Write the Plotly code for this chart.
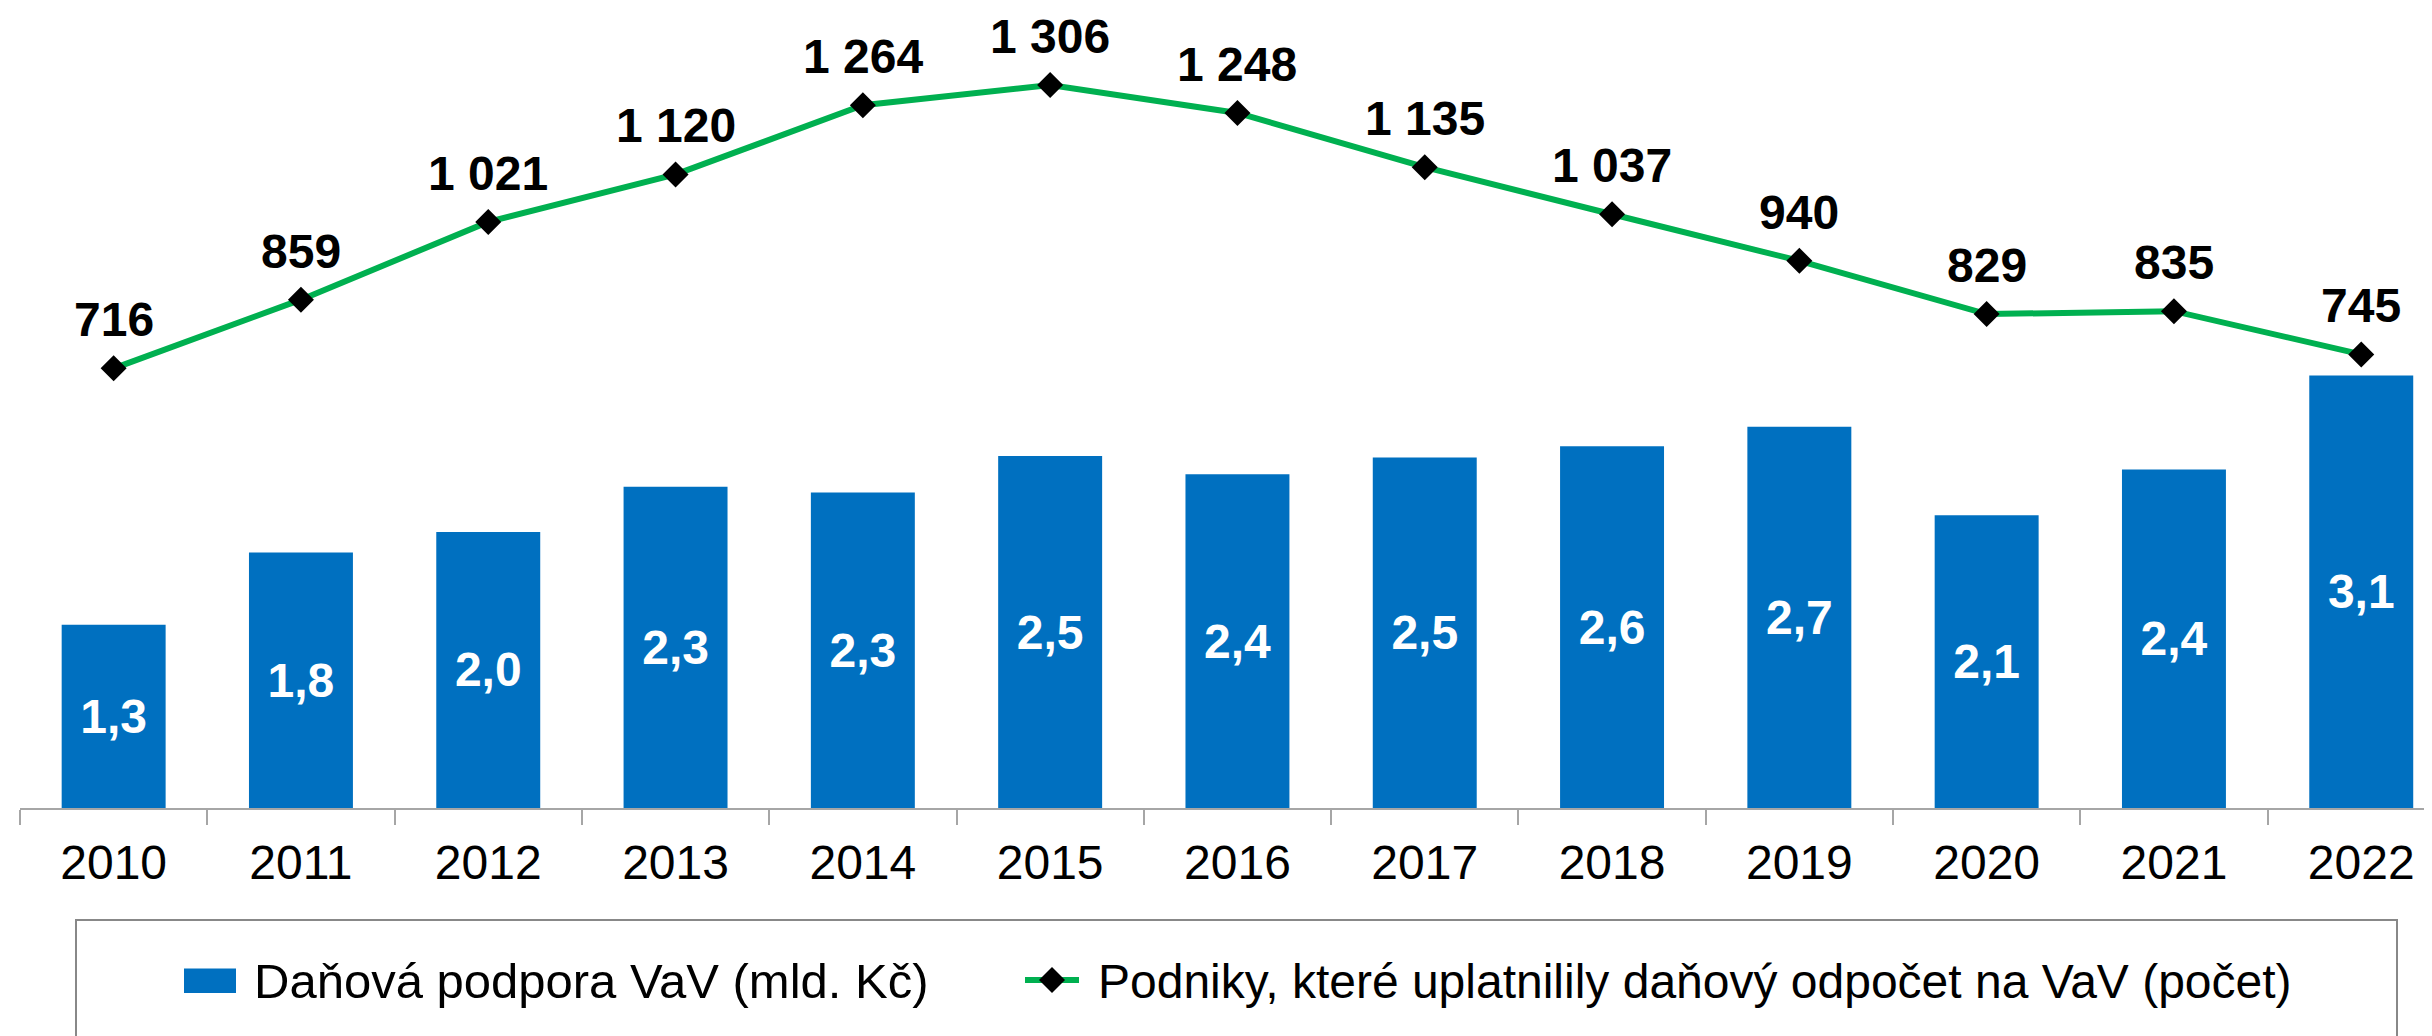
import plotly.graph_objects as go

# ---- data ----
years = ["2010", "2011", "2012", "2013", "2014", "2015", "2016",
         "2017", "2018", "2019", "2020", "2021", "2022"]
tax_support = [1.313, 1.829, 1.977, 2.30, 2.26, 2.52, 2.39,
               2.51, 2.59, 2.73, 2.097, 2.424, 3.098]          # mld. Kč
companies = [716, 859, 1021, 1120, 1264, 1306, 1248,
             1135, 1037, 940, 829, 835, 745]                    # počet
bar_name = "Daňová podpora VaV (mld. Kč)"
line_name = "Podniky, které uplatnilily daňový odpočet na VaV (počet)"

# ---- style / layout constants ----
OFF = 8                      # page body margin offset
W, H = 2432 - OFF, 1036 - OFF
L, R, T, B = 20 - OFF, 0, 40 - OFF, 228
PW, PH = W - L - R, H - T - B
BAR_COLOR = "#0070C0"
LINE_COLOR = "#00B050"
FONT = "Liberation Sans, Arial, sans-serif"
CAT_PX = 187.3


def px(x):
    # screen x -> paper
    return (x - OFF - L) / PW


def py(y):
    # screen y -> paper
    return (H - B - (y - OFF)) / PH


fig = go.Figure()

fig.add_trace(go.Bar(
    x=years, y=tax_support, name=bar_name,
    marker=dict(color=BAR_COLOR, line=dict(width=0)),
    texttemplate="%{y:.1f}", textposition="inside",
    insidetextanchor="middle", textangle=0,
    textfont=dict(family=FONT, size=48, color="white", weight="bold"),
    cliponaxis=False, showlegend=False,
))

fig.add_trace(go.Scatter(
    x=years, y=companies, name=line_name, yaxis="y2",
    mode="lines+markers",
    line=dict(color=LINE_COLOR, width=6),
    marker=dict(symbol="diamond", size=20, color="black"),
    cliponaxis=False, showlegend=False,
))

annotations = []
for i, v in enumerate(companies):
    annotations.append(dict(
        x=i, y=v, xref="x", yref="y2", yanchor="bottom", xanchor="center",
        text="<b>" + f"{v:,}".replace(",", " ") + "</b>",
        showarrow=False, yshift=21, borderpad=0,
        font=dict(family=FONT, size=48, color="black"),
    ))

# legend (drawn manually)
annotations.append(dict(
    x=px(252), y=py(981), xref="paper", yref="paper",
    xanchor="left", yanchor="middle", text=bar_name, showarrow=False,
    font=dict(family=FONT, size=49, color="black"),
))
annotations.append(dict(
    x=px(1096), y=py(981), xref="paper", yref="paper",
    xanchor="left", yanchor="middle", text=line_name, showarrow=False,
    font=dict(family=FONT, size=48, color="black"),
))

cx, cy, d = 1052, 980, 13
shapes = [
    dict(type="rect", xref="paper", yref="paper",
         x0=px(76), x1=px(2397), y0=py(920), y1=py(1080),
         line=dict(color="#888888", width=2), fillcolor="rgba(0,0,0,0)"),
    dict(type="rect", xref="paper", yref="paper",
         x0=px(184), x1=px(236), y0=py(968.5), y1=py(993),
         line=dict(width=0), fillcolor=BAR_COLOR),
    dict(type="line", xref="paper", yref="paper",
         x0=px(1025), x1=px(1079), y0=py(980), y1=py(980),
         line=dict(color=LINE_COLOR, width=6)),
    dict(type="path", xref="paper", yref="paper",
         path=(f"M{px(cx)},{py(cy - d)} L{px(cx + d)},{py(cy)} "
               f"L{px(cx)},{py(cy + d)} L{px(cx - d)},{py(cy)} Z"),
         line=dict(width=0), fillcolor="black"),
]

fig.update_layout(
    width=W, height=H,
    margin=dict(l=L, r=R, t=T, b=B, pad=0),
    paper_bgcolor="white", plot_bgcolor="white",
    separators=", ",
    bargap=0.445,
    font=dict(family=FONT, size=48, color="black"),
    xaxis=dict(
        type="category", range=[-0.5, -0.5 + PW / CAT_PX],
        showline=True, linecolor="#A6A6A6", linewidth=2,
        ticks="outside", tickson="boundaries", ticklen=15,
        tickcolor="#A6A6A6", tickwidth=2,
        tickfont=dict(family=FONT, size=48, color="black"),
        ticklabelstandoff=11,
        showgrid=False, zeroline=False, fixedrange=True,
    ),
    yaxis=dict(range=[0, 5.5], visible=False, showgrid=False, zeroline=False),
    yaxis2=dict(range=[-200, 1400], overlaying="y", side="right",
                visible=False, showgrid=False, zeroline=False),
    annotations=annotations,
    shapes=shapes,
    showlegend=False,
)

fig.write_html("out.html")
